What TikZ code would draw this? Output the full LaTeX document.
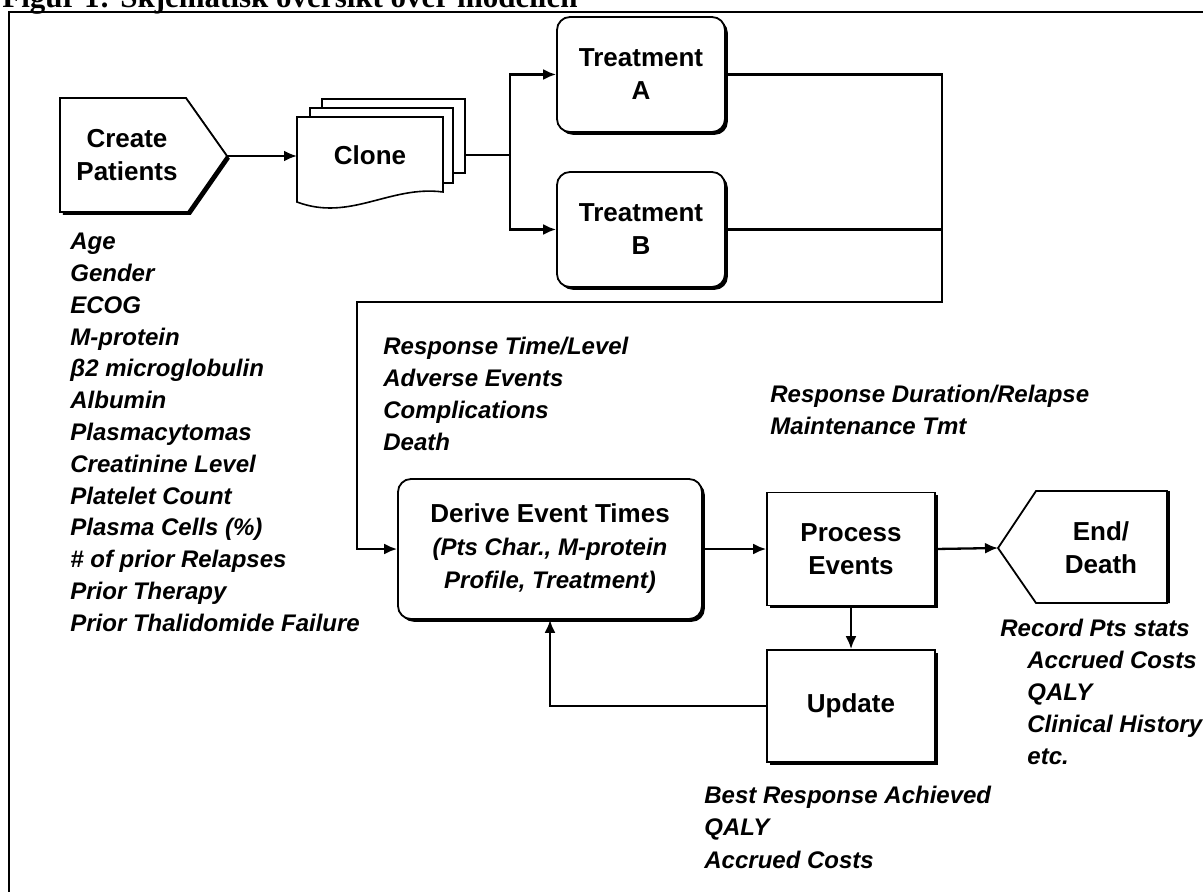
\documentclass[tikz,border=0pt]{standalone}
\usepackage{fontspec}
\setmainfont{Liberation Sans}
\newfontfamily\titlefont{Liberation Serif}
\usetikzlibrary{arrows.meta,shadows}
\newcommand\boxf{\fontsize{13}{16.5}\selectfont\bfseries}
\newcommand\lblf{\fontsize{12}{16}\selectfont\bfseries\itshape}
\begin{document}
\begin{tikzpicture}[x=0.5pt,y=-0.5pt,
  conn/.style={line width=1.15pt,-{Latex[length=6.5pt,width=5.5pt]}},
  plain/.style={line width=1.15pt},
  shd/.style={drop shadow={shadow xshift=1.4pt,shadow yshift=-1.4pt,opacity=1,fill=black}},
  shdr/.style={drop shadow={shadow xshift=1.4pt,shadow yshift=0pt,opacity=1,fill=black}},
  rbox/.style={draw,line width=0.9pt,fill=white,rounded corners=6.5pt,shd,align=center,font=\boxf,inner sep=0pt},
  sbox/.style={draw,line width=0.9pt,fill=white,shd,align=center,font=\boxf,inner sep=0pt},
  lbl/.style={font=\lblf,anchor=base west,inner sep=0pt},
  ttl/.style={font=\boxf,align=center,inner sep=0pt}]
\useasboundingbox (0,0) rectangle (1203,892);
\fill[white] (0,0) rectangle (1203,892);
\clip (0,0) rectangle (1203,892);
% title (cut off at top)
\node[font={\titlefont\bfseries\fontsize{15.5}{18}\selectfont},anchor=base west,inner sep=0pt] (title) at (2,8) {Figur 1: Skjematisk oversikt over modellen};
% frame
\draw[line width=1pt] (9,900) -- (9,12.5) -- (1210,12.5);
% Create Patients
\path[draw,line width=0.9pt,fill=white,shd] (60,98) -- (186,98) -- (227,156) -- (188,212) -- (60,212) -- cycle;
\node[ttl] (cp) at (127,155) {Create\\Patients};
\coordinate (cptip) at (227,156);
% Clone
\path[draw,line width=0.8pt,fill=white] (322,99) rectangle (465,173);
\path[draw,line width=0.8pt,fill=white] (310,108) rectangle (453,183);
\path[draw,line width=0.8pt,fill=white] (297,117) -- (443,117) -- (443,192) .. controls (390,185) and (350,222) .. (297,202) -- cycle;
\node[ttl] (cl) at (370,155) {Clone};
\coordinate (clin) at (297,156);
\coordinate (clout) at (465,155);
\coordinate (split) at (510,155);
% Treatments
\node[rbox,minimum width=84pt,minimum height=57.5pt] (tA) at (641,74.5) {Treatment\\A};
\node[rbox,minimum width=84pt,minimum height=57.5pt] (tB) at (641,229.5) {Treatment\\B};
% Derive
\node[rbox,minimum width=152pt,minimum height=70pt] (de) at (550,549) {Derive Event Times\\{\lblf (Pts Char., M-protein}\\{\lblf Profile, Treatment)}};
% Process / Update
\node[sbox,minimum width=84pt,minimum height=56.5pt] (pe) at (851,549) {Process\\Events};
\node[sbox,minimum width=84pt,minimum height=56pt] (up) at (851,706) {Update};
% End/Death
\path[draw,line width=0.9pt,fill=white,shdr] (998,548) -- (1036,491) -- (1167,491) -- (1167,603) -- (1036,603) -- cycle;
\node[ttl] (ed) at (1101,548) {End/\\Death};
\coordinate (edtip) at (998,548);
% connectors
\coordinate (rj) at (942,302);
\coordinate (lj) at (357,302);
\draw[conn] (cptip) -- (clin);
\draw[plain] (clout) -- (split);
\draw[conn] (split) |- (tA.west);
\draw[conn] (split) |- (tB.west);
\draw[conn] (tA.east) -| (rj) -- (lj) |- (de.west);
\draw[plain] (tB.east) -- (tB.east -| rj);
\draw[conn] (de.east) -- (pe.west);
\draw[conn] (pe.east) -- (edtip);
\draw[conn] (pe.south) -- (up.north);
\draw[conn] (up.west) -| (de.south);
% labels
\foreach \t [count=\i from 0] in {Age,Gender,ECOG,M-protein,β2 microglobulin,Albumin,Plasmacytomas,Creatinine Level,Platelet Count,Plasma Cells (\%),\# of prior Relapses,Prior Therapy,Prior Thalidomide Failure}
  \node[lbl] (pa\i) at (70,250+31.75*\i) {\t};
\foreach \t [count=\i from 0] in {Response Time/Level,Adverse Events,Complications,Death}
  \node[lbl] (rt\i) at (383,355+32*\i) {\t};
\node[lbl] (rd0) at (770,403) {Response Duration/Relapse};
\node[lbl] (rd1) at (770,435) {Maintenance Tmt};
\node[lbl] (rec) at (1000,636) {Record Pts stats};
\foreach \t [count=\i from 0] in {Accrued Costs,QALY,Clinical History,etc.}
  \node[lbl] (rc\i) at (1027,668+32.3*\i) {\t};
\foreach \t [count=\i from 0] in {Best Response Achieved,QALY,Accrued Costs}
  \node[lbl] (br\i) at (704,803+32.5*\i) {\t};
\end{tikzpicture}
\end{document}
